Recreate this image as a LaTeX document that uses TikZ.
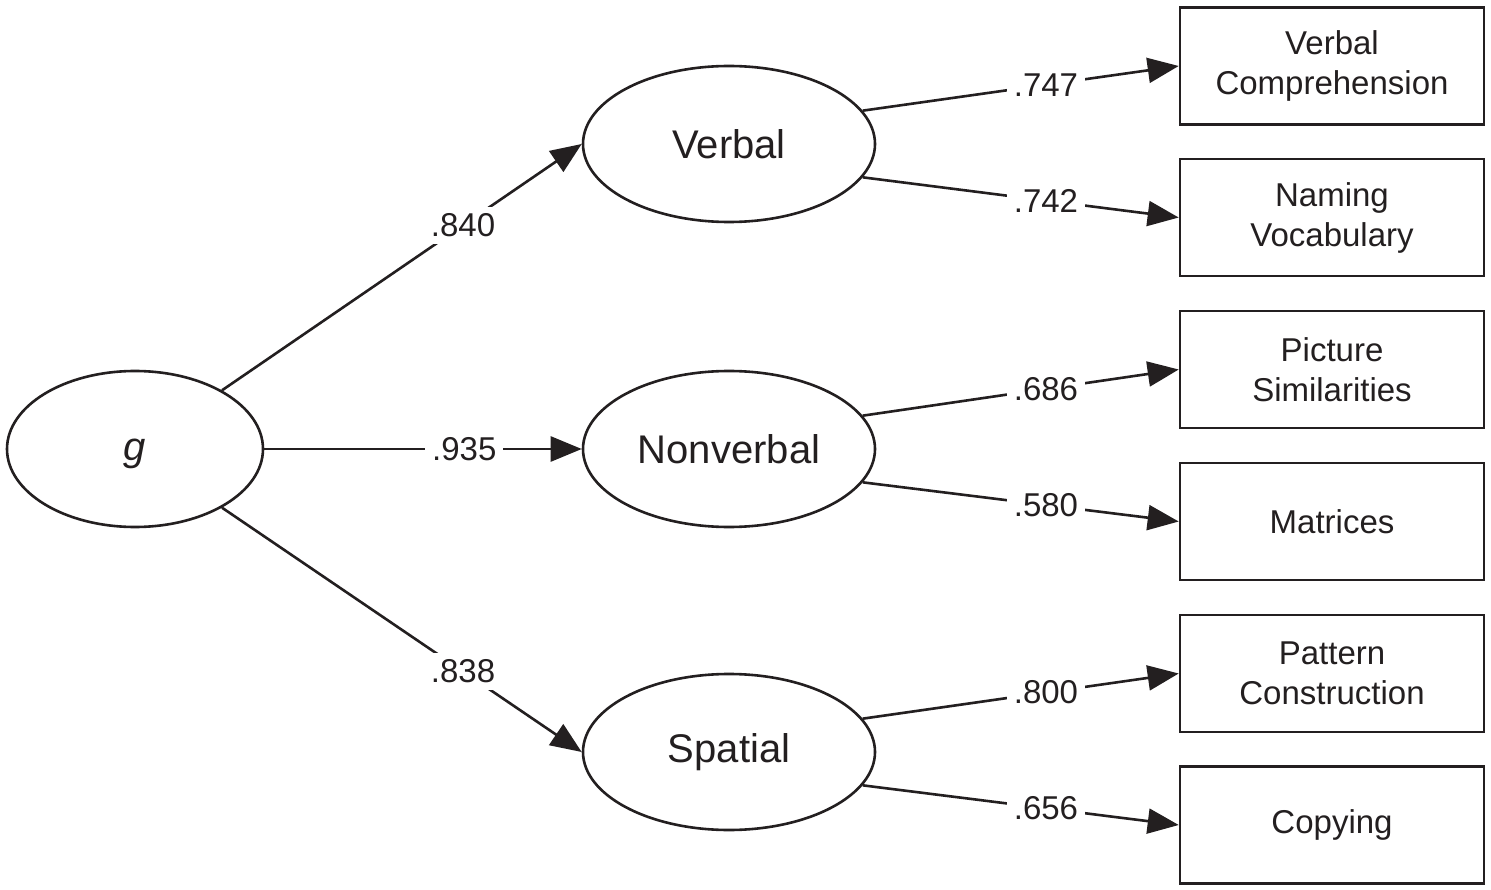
\documentclass[tikz,border=0pt]{standalone}
\usepackage{fontspec}
\setmainfont{Liberation Sans}
\usetikzlibrary{shapes.geometric,arrows.meta}
\definecolor{ink}{HTML}{231F20}
\begin{document}
\begin{tikzpicture}[x=1pt,y=-1pt,
  latent/.style={draw=ink,line width=2.6pt,ellipse,inner sep=0pt,minimum height=156pt,font=\fontsize{40}{44}\selectfont,text=ink},
  obs/.style={draw=ink,line width=2.6pt,rectangle,inner sep=0pt,minimum width=304pt,minimum height=117pt,align=center,font=\fontsize{33}{40}\selectfont,text=ink},
  path/.style={draw=ink,line width=2.6pt,-{Triangle[length=31pt,width=25pt]}},
  coef/.style={fill=white,inner sep=7pt,font=\fontsize{33}{36}\selectfont,text=ink}]
\useasboundingbox[fill=white] (0,0) rectangle (1491,890);
\node[latent,minimum width=256pt] (g) at (135,449) {\smash{\raisebox{-11pt}{\textit{g}}}};
\node[latent,minimum width=292pt] (verbal) at (729,144) {Verbal};
\node[latent,minimum width=292pt] (nonverbal) at (729,449) {Nonverbal};
\node[latent,minimum width=292pt] (spatial) at (729,752) {Spatial};
\node[obs] (vc) at (1332,66) {Verbal\\Comprehension};
\node[obs] (nv) at (1332,217.5) {Naming\\Vocabulary};
\node[obs] (ps) at (1332,369.5) {Picture\\Similarities};
\node[obs] (mat) at (1332,521.5) {Matrices};
\node[obs] (pc) at (1332,673.5) {Pattern\\Construction};
\node[obs] (cop) at (1332,825) {Copying};
\draw[path] (g.34) -- node[coef,pos=0.67] {.840} (verbal.west);
\draw[path] (g.east) -- node[coef,pos=0.63] {.935} (nonverbal.west);
\draw[path] (g.-34) -- node[coef,pos=0.67] {.838} (spatial.west);
\foreach \e/\a/\b/\la/\lb in {verbal/vc/nv/.747/.742, nonverbal/ps/mat/.686/.580, spatial/pc/cop/.800/.656}{
  \draw[path] (\e.14) -- node[coef,pos=0.58] {\la} (\a.west);
  \draw[path] (\e.-14) -- node[coef,pos=0.58] {\lb} (\b.west);
}
\end{tikzpicture}
\end{document}
